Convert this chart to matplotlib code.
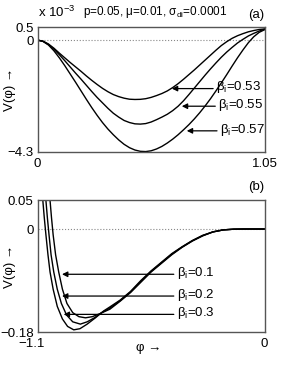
import matplotlib
matplotlib.use('Agg')
import matplotlib.pyplot as plt
from matplotlib.transforms import ScaledTranslation

plt.rcParams['font.family'] = ['Liberation Sans', 'DejaVu Sans']
plt.rcParams['mathtext.fontset'] = 'custom'
plt.rcParams['mathtext.rm'] = 'Liberation Sans'
plt.rcParams['mathtext.it'] = 'Liberation Sans'
plt.rcParams['font.size'] = 9.5

# panel (a): V(phi) in units of 1e-3
phi_a = [0, 0.025, 0.05, 0.075, 0.10, 0.125, 0.15, 0.175, 0.20, 0.225, 0.25,
         0.275, 0.30, 0.325, 0.35, 0.375, 0.40, 0.425, 0.45, 0.475, 0.50,
         0.525, 0.55, 0.575, 0.60, 0.625, 0.65, 0.675, 0.70, 0.725, 0.75,
         0.775, 0.80, 0.825, 0.85, 0.875, 0.90, 0.925, 0.95, 0.975, 1.00,
         1.025, 1.05]
v_053 = [0, -0.04, -0.15, -0.31, -0.50, -0.68, -0.86, -1.03, -1.20, -1.38, -1.55,
         -1.71, -1.86, -1.99, -2.10, -2.18, -2.24, -2.28, -2.29, -2.285, -2.26,
         -2.21, -2.14, -2.06, -1.96, -1.83, -1.68, -1.51, -1.33, -1.15, -0.96,
         -0.77, -0.58, -0.39, -0.21, -0.06, 0.07, 0.17, 0.25, 0.32, 0.37,
         0.41, 0.43]
v_055 = [0, -0.05, -0.17, -0.35, -0.56, -0.79, -1.03, -1.27, -1.50, -1.74, -1.98,
         -2.21, -2.42, -2.63, -2.82, -2.97, -3.10, -3.18, -3.23, -3.24, -3.22,
         -3.16, -3.07, -2.97, -2.86, -2.72, -2.55, -2.34, -2.10, -1.85, -1.60,
         -1.35, -1.11, -0.88, -0.66, -0.46, -0.28, -0.11, 0.03, 0.16, 0.26,
         0.35, 0.42]
v_057 = [0, -0.05, -0.19, -0.41, -0.68, -0.98, -1.30, -1.62, -1.95, -2.28, -2.60,
         -2.90, -3.18, -3.43, -3.65, -3.85, -4.02, -4.15, -4.24, -4.29, -4.30,
         -4.27, -4.20, -4.10, -3.97, -3.82, -3.65, -3.46, -3.26, -3.04, -2.80,
         -2.54, -2.26, -1.96, -1.65, -1.33, -1.00, -0.68, -0.38, -0.10, 0.13,
         0.30, 0.40]
labels_a = ['0.53', '0.55', '0.57']

# panel (b)
phi_tail = [-0.75, -0.70, -0.65, -0.60, -0.55, -0.50, -0.45, -0.40,
            -0.35, -0.30, -0.25, -0.20, -0.15, -0.10, -0.05, 0]
phi_b1 = [-1.040, -1.033, -1.025, -1.013, -0.998, -0.980, -0.958, -0.930,
          -0.900, -0.868, -0.835, -0.800] + phi_tail
v_b1 = [0.05, 0.02, -0.01, -0.045, -0.075, -0.105, -0.130, -0.146,
        -0.153, -0.155, -0.153, -0.148,
        -0.140, -0.126, -0.111, -0.093, -0.075, -0.060, -0.045, -0.032,
        -0.021, -0.012, -0.005, -0.0015, -0.0003, 0, 0, 0]
phi_b2 = [-1.060, -1.053, -1.045, -1.035, -1.022, -1.005, -0.985, -0.960,
          -0.930, -0.893, -0.860, -0.825, -0.790] + phi_tail
v_b2 = [0.05, 0.02, -0.01, -0.045, -0.075, -0.105, -0.130, -0.150,
        -0.162, -0.166, -0.162, -0.155, -0.146,
        -0.138, -0.125, -0.110, -0.0915, -0.074, -0.059, -0.044, -0.0315,
        -0.0205, -0.0115, -0.005, -0.0015, -0.0003, 0, 0, 0]
phi_b3 = [-1.075, -1.068, -1.060, -1.050, -1.040, -1.025, -1.005, -0.980,
          -0.955, -0.925, -0.895, -0.860, -0.820, -0.780] + phi_tail
v_b3 = [0.05, 0.02, -0.01, -0.045, -0.075, -0.105, -0.135, -0.157,
        -0.170, -0.176, -0.174, -0.166, -0.155, -0.143,
        -0.136, -0.124, -0.109, -0.090, -0.073, -0.058, -0.043, -0.031,
        -0.020, -0.011, -0.005, -0.0015, -0.0003, 0, 0, 0]
labels_b = ['0.1', '0.2', '0.3']

fig = plt.figure(figsize=(2.92, 3.67), dpi=100)
ax1 = fig.add_axes([0.129, 0.587, 0.777, 0.339])
ax2 = fig.add_axes([0.129, 0.095, 0.777, 0.359])

for ax in (ax1, ax2):
    for s in ax.spines.values():
        s.set_color('#555555')
        s.set_linewidth(1.0)
    ax.tick_params(axis='x', length=0, pad=4.5)
    ax.tick_params(axis='y', length=0, pad=3)
    ax.axhline(0, color='#888888', ls=':', lw=0.8)
    ax.set_ylabel('V(φ) →')
    ax.yaxis.set_label_coords(-0.095, 0.5)

# (a)
for v in (v_053, v_055, v_057):
    ax1.plot(phi_a, v, color='k', lw=1.0)
ax1.set_xlim(0, 1.05)
ax1.set_ylim(-4.3, 0.5)
ax1.set_xticks([0, 1.05])
ax1.set_xticklabels(['0', '1.05'])
ax1.set_yticks([0.5, 0, -4.3])
ax1.set_yticklabels(['0.5', '0', '−4.3'])

arrows_a = [(0.621, 0.812, -1.87), (0.667, 0.822, -2.55), (0.690, 0.83, -3.5)]
for (tip, tail, y), lab in zip(arrows_a, labels_a):
    ax1.annotate('', xy=(tip, y), xytext=(tail, y),
                 arrowprops=dict(arrowstyle='-|>', color='k', lw=0.9,
                                 mutation_scale=8, shrinkA=0, shrinkB=0))
    ax1.text(tail + 0.012, y + 0.05, 'β$_{\\rm i}$=' + lab, va='center', ha='left')

fig.text(0.13, 0.966, 'x 10$^{-3}$', ha='left', va='center', fontsize=9.5)
fig.text(0.285, 0.968, 'p=0.05, μ=0.01, σ$_{\\rm di}$=0.0001', ha='left', va='center',
         fontsize=8.5)
fig.text(0.905, 0.958, '(a)', ha='right', va='center')

# (b)
for x, v in ((phi_b1, v_b1), (phi_b2, v_b2), (phi_b3, v_b3)):
    ax2.plot(x, v, color='k', lw=1.0)
ax2.set_xlim(-1.1, 0)
ax2.set_ylim(-0.18, 0.05)
ax2.set_xticks([-1.1, 0])
ax2.set_xticklabels(['−1.1', '0'])
ax2.set_yticks([0.05, 0, -0.18])
ax2.set_yticklabels(['0.05', '0', '−0.18'])
ax2.set_xlabel('φ →')
ax2.xaxis.set_label_coords(0.49, -0.075)
lab0 = ax2.get_xticklabels()[0]
lab0.set_transform(lab0.get_transform() + ScaledTranslation(-6 / 100, 0, fig.dpi_scale_trans))

arrows_b = [(-0.982, -0.44, -0.079), (-0.982, -0.44, -0.117), (-0.974, -0.44, -0.149)]
for (tip, tail, y), lab in zip(arrows_b, labels_b):
    ax2.annotate('', xy=(tip, y), xytext=(tail, y),
                 arrowprops=dict(arrowstyle='-|>', color='k', lw=0.9,
                                 mutation_scale=8, shrinkA=0, shrinkB=0))
    ax2.text(tail + 0.015, y + 0.002, 'β$_{\\rm i}$=' + lab, va='center', ha='left')

fig.text(0.905, 0.49, '(b)', ha='right', va='center')

fig.savefig('out.png', dpi=100)
